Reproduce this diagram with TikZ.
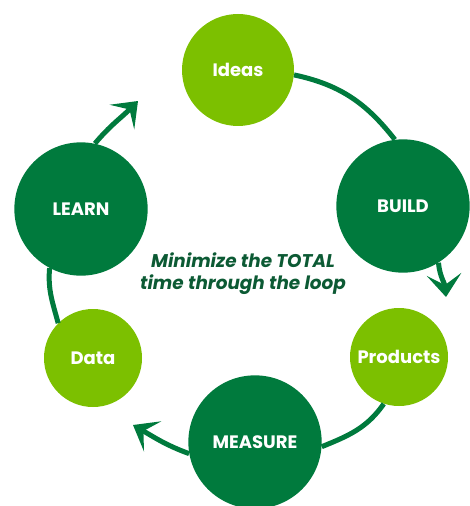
\documentclass[tikz,border=0pt]{standalone}
\usepackage{fontspec}
\setmainfont{Poppins}
\usetikzlibrary{arrows.meta}

\definecolor{leafgreen}{RGB}{124,192,0}
\definecolor{deepgreen}{RGB}{0,122,61}
\definecolor{textgreen}{RGB}{12,90,52}

\begin{document}
\begin{tikzpicture}[x=0.75pt, y=-0.75pt,
  stage/.style={circle, inner sep=0pt, text=white, font=\bfseries\fontsize{13.5}{15}\selectfont},
  bigstage/.style={stage, fill=deepgreen, minimum size=100pt},
  midstage/.style={stage, fill=leafgreen, minimum size=84pt},
  smallstage/.style={stage, fill=leafgreen, minimum size=73.5pt},
  loop/.style={deepgreen, line width=3.75pt},
  looptip/.style={loop, -{Stealth[length=17pt, width=26pt, inset=8pt]}}]

\useasboundingbox (0,0) rectangle (470,506);

\node [midstage] (ideas) at (238, 70) {Ideas};
\node [bigstage] (build) at (403, 206) {BUILD};
\node [smallstage] (products) at (399, 357) {Products};
\node [bigstage] (measure) at (255, 442) {MEASURE};
\node [smallstage] (data) at (93, 358) {Data};
\node [bigstage] (learn) at (81, 209) {LEARN};

\node [text=textgreen, align=center, font=\bfseries\itshape\fontsize{13.8}{16.5}\selectfont] (goal) at (243, 274)
  {Minimize the TOTAL\\time through the loop};

\coordinate (buildtip) at (446, 297);
\coordinate (measuretip) at (133, 425);
\coordinate (learntip) at (138, 101);

\draw [loop] (ideas.-5) to[out=-12, in=128] (build.97);
\draw [looptip] (build.-58) to[out=-85, in=95] (buildtip);
\draw [loop] (products.-108) to[out=-125, in=22] (measure.-4);
\draw [looptip] (measure.190) to[out=160, in=-30] (measuretip);
\draw [loop] (data.135) to[out=105, in=-95] (learn.-118);
\draw [looptip] (learn.78) to[out=50, in=-135] (learntip);

\end{tikzpicture}
\end{document}
